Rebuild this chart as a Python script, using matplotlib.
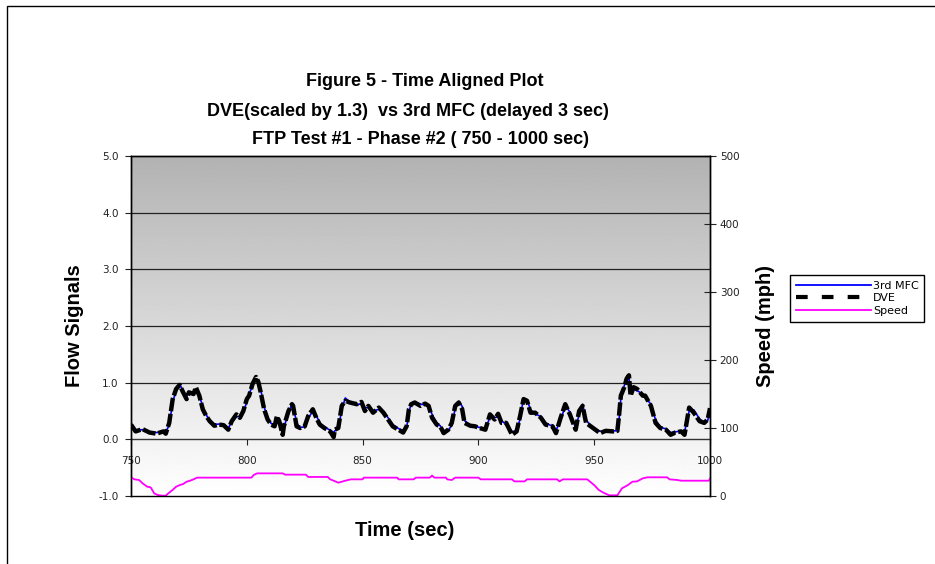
import numpy as np
import matplotlib
matplotlib.use("Agg")
import matplotlib.pyplot as plt
from matplotlib.lines import Line2D
from matplotlib.patches import Rectangle

# flow signals
flow_time = [750, 751, 752, 755, 758, 761, 764, 765, 766.5, 768, 769.5, 771, 772.5, 774, 775, 777, 778,
             779.5, 781, 782.5, 784, 786, 788, 790, 792, 793.5, 795.5, 797, 798.5, 800, 801, 802.5, 804,
             805, 806, 807.5, 809, 810.5, 812, 813, 814, 815.5, 816, 818, 819.5, 820, 821.5, 823, 825,
             826.5, 828.5, 830, 831.5, 833.5, 836, 837.5, 838, 839.5, 841, 842.5, 844.5, 847.5, 849.5,
             851, 852.5, 854.5, 857, 859, 861, 863, 865.5, 867.5, 869, 870, 871, 872.5, 875, 877, 878.5,
             880, 882, 883.5, 885, 887, 888.5, 890, 891.5, 893, 894, 896.5, 898.5, 900.5, 903, 905, 907,
             908.5, 910, 912, 914.5, 916.5, 918, 919.5, 921, 922.5, 924.5, 927, 929, 932, 933.5, 935.5,
             937.5, 939.5, 942, 943.5, 945, 946.5, 948.5, 950.5, 952.5, 955, 958, 960, 960.7, 961.5, 963,
             964, 965, 965.7, 967, 968.5, 971, 972, 974.5, 976.5, 978.5, 981, 983, 985, 987.5, 989, 991,
             993, 995.5, 997.5, 999, 1000]

dve = [0.26, 0.20, 0.14, 0.18, 0.12, 0.10, 0.14, 0.10, 0.29, 0.71, 0.89, 0.96, 0.83, 0.71, 0.83, 0.80, 0.92,
       0.77, 0.53, 0.41, 0.32, 0.24, 0.26, 0.25, 0.17, 0.32, 0.44, 0.38, 0.50, 0.71, 0.77, 0.98, 1.10,
       1.01, 0.83, 0.53, 0.35, 0.26, 0.23, 0.41, 0.32, 0.08, 0.23, 0.50, 0.62, 0.59, 0.23, 0.20, 0.23,
       0.41, 0.53, 0.38, 0.26, 0.20, 0.14, 0.04, 0.17, 0.20, 0.59, 0.68, 0.65, 0.62, 0.66,
       0.50, 0.59, 0.47, 0.56, 0.47, 0.35, 0.23, 0.17, 0.12, 0.23, 0.53, 0.62, 0.65, 0.59, 0.63, 0.59,
       0.38, 0.26, 0.23, 0.11, 0.17, 0.29, 0.59, 0.65, 0.53, 0.29, 0.24, 0.23, 0.20, 0.17, 0.44, 0.35,
       0.45, 0.29, 0.29, 0.08, 0.14, 0.41, 0.71, 0.68, 0.47, 0.47, 0.38, 0.26, 0.23, 0.11, 0.38,
       0.62, 0.44, 0.17, 0.50, 0.59, 0.29, 0.23, 0.17, 0.11, 0.15, 0.14, 0.15, 0.41, 0.77, 0.92,
       1.07, 1.13, 0.77, 0.92, 0.89, 0.77, 0.77, 0.59, 0.29, 0.20, 0.17, 0.08, 0.12, 0.14, 0.08, 0.56,
       0.47, 0.32, 0.29, 0.35, 0.55]

mfc = [0.27, 0.21, 0.16, 0.17, 0.13, 0.12, 0.13, 0.13, 0.25, 0.66, 0.86, 0.97, 0.86, 0.76, 0.81, 0.82, 0.88,
       0.78, 0.57, 0.43, 0.33, 0.26, 0.27, 0.26, 0.20, 0.30, 0.40, 0.40, 0.48, 0.66, 0.80, 0.95, 1.06,
       1.03, 0.88, 0.57, 0.38, 0.28, 0.26, 0.35, 0.33, 0.22, 0.22, 0.45, 0.64, 0.62, 0.28, 0.21, 0.22,
       0.37, 0.50, 0.42, 0.29, 0.22, 0.16, 0.12, 0.15, 0.19, 0.52, 0.73, 0.66, 0.62, 0.62,
       0.56, 0.56, 0.50, 0.53, 0.50, 0.38, 0.26, 0.19, 0.15, 0.20, 0.48, 0.64, 0.66, 0.62, 0.61, 0.60,
       0.44, 0.29, 0.24, 0.15, 0.16, 0.25, 0.55, 0.67, 0.58, 0.33, 0.25, 0.23, 0.21, 0.18, 0.39, 0.38,
       0.40, 0.32, 0.27, 0.14, 0.14, 0.36, 0.73, 0.70, 0.52, 0.45, 0.40, 0.29, 0.23, 0.16, 0.33,
       0.60, 0.48, 0.20, 0.44, 0.62, 0.34, 0.24, 0.18, 0.14, 0.15, 0.15, 0.15, 0.33, 0.72, 0.95,
       1.04, 1.10, 0.82, 0.88, 0.86, 0.80, 0.74, 0.62, 0.34, 0.22, 0.18, 0.12, 0.13, 0.15, 0.13, 0.50,
       0.52, 0.36, 0.30, 0.33, 0.50]

# vehicle speed (mph)
speed_time = [750, 751.5, 753.5, 755, 757, 758.5, 760, 761.5, 763.5, 765, 766.5, 768, 769.5, 771, 772.5,
              774, 775.5, 777, 778.5, 802, 803, 804.5, 815.5, 816.5, 825.5, 826.5, 835, 836, 837.5, 839.5,
              841, 842.5, 845, 850, 850.5, 865, 865.5, 872, 873, 879, 880, 881, 886, 886.5, 888.5, 890,
              900, 901, 914.5, 915.5, 920, 921, 934, 935, 936.5, 947, 950, 952, 954, 956.5, 960, 962,
              964.5, 966.5, 968.5, 971, 973, 981.5, 982.5, 986, 987.5, 999.5, 1000]
speed = [27.5, 24.5, 23.5, 18.6, 13.7, 12.7, 4, 1.5, 0.5, 0.5, 5, 9, 13.7, 16, 17.6,
         21, 22.5, 24.5, 27, 27, 31, 33.3, 33.3, 31.4, 31.4, 28, 28, 24.5, 22.5, 19.6,
         21, 22.5, 24.5, 24.5, 27, 27, 24.5, 24.5, 27, 27, 30, 27, 27, 24.5, 23.5, 27,
         27, 24.5, 24.5, 21.5, 21.5, 24.5, 24.5, 21.5, 24.5, 24.5, 16, 8.8, 4.9, 1, 1, 11.3,
         16, 21, 21.5, 26, 27.5, 27.5, 24.5, 23.5, 22.5, 22.5, 25.5]

fig = plt.figure(figsize=(9.35, 5.64), dpi=100)
ax = fig.add_axes([131 / 935, 1 - 496 / 564, 579 / 935, 340 / 564])
ax2 = ax.twinx()

# grey gradient plot area
grad = np.linspace(0.70, 1.0, 256).reshape(-1, 1)
ax.imshow(grad, cmap="gray", vmin=0, vmax=1, aspect="auto",
          extent=[750, 1000, -1, 5], origin="upper", zorder=0)

for yy in [1, 2, 3, 4]:
    ax.axhline(yy, color="#222222", lw=0.9, zorder=1)

ax.plot(flow_time, mfc, color="#0000ff", lw=1.2, zorder=3)
ax.plot(flow_time, dve, color="black", lw=3.2, dashes=(3, 0.6), zorder=4)
ax2.plot(speed_time, speed, color="#ff00ff", lw=1.3)

ax.set_xlim(750, 1000)
ax.set_ylim(-1, 5)
ax2.set_ylim(0, 500)

ax.spines["bottom"].set_position(("data", 0))
ax.spines["bottom"].set_color("#333333")
ax.set_xticks([750, 800, 850, 900, 950, 1000])
ax.set_yticks([-1, 0, 1, 2, 3, 4, 5])
ax.set_yticklabels(["-1.0", "0.0", "1.0", "2.0", "3.0", "4.0", "5.0"])
ax.tick_params(axis="x", direction="out", length=4, pad=8, labelsize=7.5, colors="#222222")
ax.tick_params(axis="y", direction="out", length=4, pad=5, labelsize=7.5, colors="#222222")
ax2.set_yticks([0, 100, 200, 300, 400, 500])
ax2.tick_params(axis="y", direction="inout", length=8, pad=3, labelsize=7.5, colors="#222222")

for a in (ax, ax2):
    for s in a.spines.values():
        s.set_linewidth(1.0)

ax.set_ylabel("Flow Signals", fontsize=14.5, fontweight="bold", family="Liberation Sans", labelpad=10)
ax2.set_ylabel("Speed (mph)", fontsize=14.5, fontweight="bold", family="Liberation Sans", labelpad=12)
fig.text(405 / 935, 1 - 530 / 564, "Time (sec)", fontsize=14.5, fontweight="bold",
         family="Liberation Sans", ha="center", va="center")

fig.text(425 / 935, 1 - 82 / 564, "Figure 5 - Time Aligned Plot", fontsize=13,
         fontweight="bold", family="Liberation Sans", ha="center", va="center")
fig.text(408 / 935, 1 - 111 / 564, "DVE(scaled by 1.3)  vs 3rd MFC (delayed 3 sec)", fontsize=13,
         fontweight="bold", family="Liberation Sans", ha="center", va="center")
fig.text(420 / 935, 1 - 140 / 564, "FTP Test #1 - Phase #2 ( 750 - 1000 sec)", fontsize=13,
         fontweight="bold", family="Liberation Sans", ha="center", va="center")

handles = [Line2D([], [], color="#0000ff", lw=1.3),
           Line2D([], [], color="black", lw=3, dashes=(2.8, 3.4)),
           Line2D([], [], color="#ff00ff", lw=1.3)]
leg = fig.legend(handles, ["3rd MFC", "DVE", "Speed"], loc="upper left",
                 bbox_to_anchor=(790 / 935, 1 - 275 / 564), fontsize=8, handlelength=6.8,
                 handletextpad=0.15, labelspacing=0.25, borderpad=0.5, borderaxespad=0,
                 fancybox=False, framealpha=1, edgecolor="black")
leg.get_frame().set_linewidth(1.0)

# chart border (left and top edges visible)
fig.add_artist(Rectangle((7 / 935, -0.5), 2, 1.5 - 6 / 564, transform=fig.transFigure,
                         fill=False, ec="black", lw=1))

fig.savefig("out.png", dpi=100)
